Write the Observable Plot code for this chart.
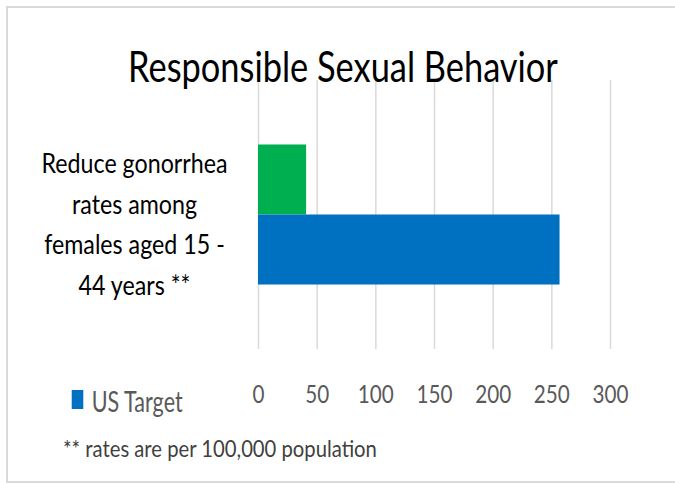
<!DOCTYPE html>
<html>
<head>
<meta charset="utf-8">
<script src="https://cdn.jsdelivr.net/npm/d3@7"></script>
<script src="https://cdn.jsdelivr.net/npm/@observablehq/plot@0.6"></script>
<style>
  html, body { margin: 0; padding: 0; background: #fff; overflow: hidden; }
  #wrap { position: relative; width: 675px; height: 483px; overflow: hidden; }
  #frame { position: absolute; left: 6px; top: 6px; width: 740px; height: 477px; border: 2px solid #d9d9d9; border-right: none; box-sizing: border-box; }
  #chart { position: absolute; left: 0; top: 0; }
  #chart svg { display: block; }
</style>
</head>
<body>
<div id="wrap">
  <div id="frame"></div>
  <div id="chart"></div>
</div>
<script>
// ---- data ----
const chartTitle = "Responsible Sexual Behavior";
const categories = ["Reduce gonorrhea rates among females aged 15 - 44 years **"];
const categoryLines = ["Reduce gonorrhea", "rates among", "females aged 15 -", "44 years **"];
const series = ["Current", "US Target"];
const values = [41, 257];
const colors = ["#00B050", "#0070C0"];
const xTicks = [0, 50, 100, 150, 200, 250, 300];
const legendItems = ["US Target"];
const footnote = "** rates are per 100,000 population";

const data = series.map((s, i) => ({category: categories[0], series: s, value: values[i]}));
const fontFamily = 'Lato, "Noto Sans", "Liberation Sans", sans-serif';

const plot = Plot.plot({
  width: 675,
  height: 483,
  marginTop: 80,
  marginBottom: 134,
  marginLeft: 258,
  marginRight: 65,
  style: {fontFamily, background: "transparent", color: "#595959", overflow: "visible"},
  x: {domain: [0, 300], ticks: xTicks},
  y: {domain: series, paddingInner: 0, paddingOuter: 0.921, axis: null, round: false},
  color: {domain: series, range: colors},
  marks: [
    Plot.gridX(xTicks, {stroke: "#d9d9d9", strokeOpacity: 1, strokeWidth: 1.5}),
    Plot.axisX({ticks: xTicks, tickSize: 0, tickPadding: 36, fontSize: 25, fill: "#595959", label: null}),
    Plot.barX(data, {y: "series", x: "value", fill: "series"}),
    Plot.text([categoryLines.join("\n")], {
      text: d => d,
      frameAnchor: "left", dx: -124, dy: 6, textAnchor: "middle", lineAnchor: "middle",
      lineHeight: 1.54, fontSize: 26.5, fill: "#000"
    })
  ]
});
document.getElementById("chart").appendChild(plot);

// horizontal condensing helper (the reference font is narrow)
function squeeze(el, k, cx) {
  const prev = el.getAttribute("transform") || "";
  el.setAttribute("transform", `${prev} translate(${cx},0) scale(${k},1) translate(${-cx},0)`);
}
function fitWidth(el, target, measureEl) {
  const w = (measureEl || el).getComputedTextLength();
  return w > 0 ? target / w : 1;
}

const svg = d3.select(plot);

// tick labels
const tickTexts = Array.from(plot.querySelectorAll('g[aria-label="x-axis tick label"] text'));
const t100 = tickTexts.find(t => t.textContent === "100");
const kTick = t100 ? fitWidth(t100, 36) : 0.83;
tickTexts.forEach(t => squeeze(t, kTick, +(t.getAttribute("x") || 0)));

// category label
const catText = plot.querySelector('g[aria-label="text"] text');
if (catText) {
  const first = catText.querySelector("tspan");
  const k = fitWidth(catText, 186, first || catText);
  squeeze(catText, k, +(catText.getAttribute("x") || 0));
}

// title
const title = svg.append("text")
  .attr("x", 343).attr("y", 82)
  .attr("text-anchor", "middle")
  .attr("font-family", fontFamily).attr("font-size", 42).attr("fill", "#000")
  .text(chartTitle);
squeeze(title.node(), fitWidth(title.node(), 430), 343);

// legend
legendItems.forEach(name => {
  svg.append("rect")
    .attr("x", 71.7).attr("y", 390).attr("width", 11.6).attr("height", 19)
    .attr("fill", colors[series.indexOf(name)]);
  const lt = svg.append("text")
    .attr("x", 91.7).attr("y", 411.7)
    .attr("text-anchor", "start")
    .attr("font-family", fontFamily).attr("font-size", 28).attr("fill", "#595959")
    .text(name);
  squeeze(lt.node(), fitWidth(lt.node(), 91), 91.7);
});

// footnote
const fn = svg.append("text")
  .attr("x", 63).attr("y", 456.7)
  .attr("text-anchor", "start")
  .attr("font-family", fontFamily).attr("font-size", 23).attr("fill", "#404040")
  .text(footnote);
squeeze(fn.node(), fitWidth(fn.node(), 314), 63);
</script>
</body>
</html>
